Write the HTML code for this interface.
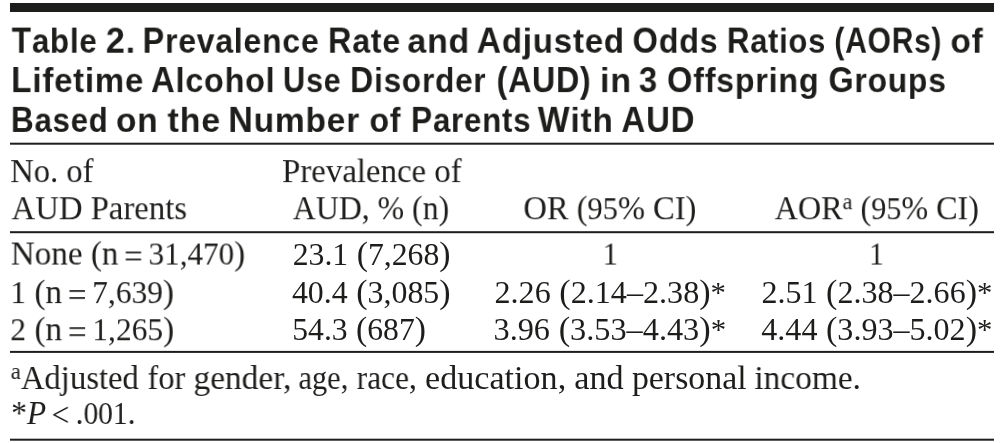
<!DOCTYPE html>
<html><head><meta charset="utf-8">
<style>
html,body{margin:0;padding:0;background:#fff;}
body{width:1004px;height:443px;position:relative;overflow:hidden;color:#1d1d1b;}
.rule{position:absolute;left:10.2px;width:983.6px;background:#1d1d1b;will-change:transform;}
.t,.s{position:absolute;white-space:nowrap;transform-origin:0 0;will-change:transform;line-height:40px;}
.t{font-family:"Liberation Sans",sans-serif;font-weight:bold;font-size:35.5px;letter-spacing:0.9px;}
.s{font-family:"Liberation Serif",serif;font-size:33.5px;}
.d{font-size:0.94em;line-height:0;}
.u{font-size:0.7em;position:relative;top:-0.42em;}
.q{margin:0 -0.08em;position:relative;top:0.1em;}
.lt{margin:0 0.2em 0 0.17em;position:relative;top:0.07em;}
.c{font-size:1.015em;line-height:0;}
.a{font-size:0.9em;position:relative;top:-0.04em;}
</style></head><body>
<div class="rule" style="top:3px;height:8.5px;transform:translateY(0.00px)"></div>
<div class="rule" style="top:142px;height:2.1px;transform:translateY(0.70px)"></div>
<div class="rule" style="top:231px;height:2.2px;transform:translateY(0.20px)"></div>
<div class="rule" style="top:350px;height:2.1px;transform:translateY(0.90px)"></div>
<div class="rule" style="top:438px;height:2.1px;transform:translateY(0.70px)"></div>
<div class="t" id="t1_0" style="left:11px;top:21px;transform:translate(0.70px,0.82px) scale(0.8792,0.965)"><span class="c">T</span>able</div>
<div class="t" id="t1_1" style="left:105px;top:21px;transform:translate(0.80px,0.82px) scale(0.9488,0.965)"><span class="c">2</span>.</div>
<div class="t" id="t1_2" style="left:142px;top:21px;transform:translate(0.60px,0.82px) scale(0.8984,0.965)"><span class="c">P</span>revalence</div>
<div class="t" id="t1_3" style="left:328px;top:21px;transform:translate(0.00px,0.82px) scale(0.9013,0.965)"><span class="c">R</span>ate</div>
<div class="t" id="t1_4" style="left:407px;top:21px;transform:translate(0.40px,0.82px) scale(0.9516,0.965)">and</div>
<div class="t" id="t1_5" style="left:476px;top:21px;transform:translate(0.80px,0.82px) scale(0.9290,0.965)"><span class="c">A</span>djusted</div>
<div class="t" id="t1_6" style="left:632px;top:21px;transform:translate(0.50px,0.82px) scale(0.9077,0.965)"><span class="c">O</span>dds</div>
<div class="t" id="t1_7" style="left:726px;top:21px;transform:translate(0.90px,0.82px) scale(0.8673,0.965)"><span class="c">R</span>atios</div>
<div class="t" id="t1_8" style="left:834px;top:21px;transform:translate(0.40px,0.82px) scale(0.8339,0.965)"><span class="c">(AOR</span>s<span class="c">)</span></div>
<div class="t" id="t1_9" style="left:950px;top:21px;transform:translate(0.50px,0.82px) scale(0.9394,0.965)">of</div>
<div class="t" id="t2_0" style="left:11px;top:61px;transform:translate(0.10px,0.22px) scale(0.9258,0.965)"><span class="c">L</span>ifetime</div>
<div class="t" id="t2_1" style="left:151px;top:61px;transform:translate(0.00px,0.22px) scale(0.9098,0.965)"><span class="c">A</span>lcohol</div>
<div class="t" id="t2_2" style="left:282px;top:61px;transform:translate(0.90px,0.22px) scale(0.8578,0.965)"><span class="c">U</span>se</div>
<div class="t" id="t2_3" style="left:350px;top:61px;transform:translate(0.10px,0.22px) scale(0.8880,0.965)"><span class="c">D</span>isorder</div>
<div class="t" id="t2_4" style="left:496px;top:61px;transform:translate(0.60px,0.22px) scale(0.8912,0.965)"><span class="c">(AUD)</span></div>
<div class="t" id="t2_5" style="left:600px;top:61px;transform:translate(0.00px,0.22px) scale(0.9576,0.965)">in</div>
<div class="t" id="t2_6" style="left:638px;top:61px;transform:translate(0.80px,0.22px) scale(0.9167,0.965)"><span class="c">3</span></div>
<div class="t" id="t2_7" style="left:667px;top:61px;transform:translate(0.00px,0.22px) scale(0.9055,0.965)"><span class="c">O</span>ffspring</div>
<div class="t" id="t2_8" style="left:828px;top:61px;transform:translate(0.50px,0.22px) scale(0.8946,0.965)"><span class="c">G</span>roups</div>
<div class="t" id="t3_0" style="left:10px;top:101px;transform:translate(0.90px,0.02px) scale(0.8764,0.965)"><span class="c">B</span>ased</div>
<div class="t" id="t3_1" style="left:116px;top:101px;transform:translate(0.00px,0.02px) scale(0.9415,0.965)">on</div>
<div class="t" id="t3_2" style="left:167px;top:101px;transform:translate(0.50px,0.02px) scale(0.9574,0.965)">the</div>
<div class="t" id="t3_3" style="left:228px;top:101px;transform:translate(0.30px,0.02px) scale(0.9416,0.965)"><span class="c">N</span>umber</div>
<div class="t" id="t3_4" style="left:369px;top:101px;transform:translate(0.50px,0.02px) scale(0.9030,0.965)">of</div>
<div class="t" id="t3_5" style="left:411px;top:101px;transform:translate(0.00px,0.02px) scale(0.8788,0.965)"><span class="c">P</span>arents</div>
<div class="t" id="t3_6" style="left:537px;top:101px;transform:translate(0.80px,0.02px) scale(0.9346,0.965)"><span class="c">W</span>ith</div>
<div class="t" id="t3_7" style="left:621px;top:101px;transform:translate(0.40px,0.02px) scale(0.9156,0.965)"><span class="c">AUD</span></div>
<div class="s" id="h1a" style="left:10px;top:151px;transform:translate(0.20px,0.10px) scale(0.9718,1)">No. of</div>
<div class="s" id="h1b" style="left:11px;top:188px;transform:translate(0.50px,0.20px) scale(0.9775,1)">AUD Parents</div>
<div class="s" id="h2a" style="left:282px;top:151px;transform:translate(0.00px,0.10px) scale(0.9808,1)">Prevalence of</div>
<div class="s" id="h2b" style="left:292px;top:188px;transform:translate(0.80px,0.20px) scale(0.9497,1)">AUD, % (n)</div>
<div class="s" id="h3" style="left:523px;top:188px;transform:translate(0.40px,0.20px) scale(0.9693,1)">OR (<span class="d">95</span>% CI)</div>
<div class="s" id="h4" style="left:774px;top:188px;transform:translate(0.70px,0.20px) scale(0.9580,1)">AOR<span class="u">a</span> (<span class="d">95</span>% CI)</div>
<div class="s" id="r1a" style="left:10px;top:233px;transform:translate(0.70px,0.55px) scale(0.9898,1)">None (n<span class="q">&nbsp;=&nbsp;</span><span class="d">31,470</span>)</div>
<div class="s" id="r2a" style="left:10px;top:272px;transform:translate(0.30px,0.10px) scale(0.9956,1)"><span class="d">1</span> (n<span class="q">&nbsp;=&nbsp;</span><span class="d">7,639</span>)</div>
<div class="s" id="r3a" style="left:10px;top:309px;transform:translate(0.30px,0.20px) scale(0.9969,1)"><span class="d">2</span> (n<span class="q">&nbsp;=&nbsp;</span><span class="d">1,265</span>)</div>
<div class="s" id="r1b" style="left:292px;top:233px;transform:translate(0.70px,0.55px) scale(1.0078,1)"><span class="d">23.1</span> (<span class="d">7,268</span>)</div>
<div class="s" id="r2b" style="left:291px;top:272px;transform:translate(0.90px,0.10px) scale(1.0130,1)"><span class="d">40.4</span> (<span class="d">3,085</span>)</div>
<div class="s" id="r3b" style="left:292px;top:309px;transform:translate(0.30px,0.20px) scale(1.0046,1)"><span class="d">54.3</span> (<span class="d">687</span>)</div>
<div class="s" id="r1c" style="left:602px;top:233px;transform:translate(0.60px,0.55px) scale(0.9727,1)"><span class="d">1</span></div>
<div class="s" id="r2c" style="left:494px;top:272px;transform:translate(0.50px,0.10px) scale(1.0205,1)"><span class="d">2.26</span> (<span class="d">2.14–2.38</span>)<span class="a">*</span></div>
<div class="s" id="r3c" style="left:493px;top:309px;transform:translate(0.50px,0.20px) scale(1.0259,1)"><span class="d">3.96</span> (<span class="d">3.53–4.43</span>)<span class="a">*</span></div>
<div class="s" id="r1d" style="left:869px;top:233px;transform:translate(0.00px,0.55px) scale(0.9455,1)"><span class="d">1</span></div>
<div class="s" id="r2d" style="left:761px;top:272px;transform:translate(0.50px,0.10px) scale(1.0179,1)"><span class="d">2.51</span> (<span class="d">2.38–2.66</span>)<span class="a">*</span></div>
<div class="s" id="r3d" style="left:761px;top:309px;transform:translate(0.30px,0.20px) scale(1.0188,1)"><span class="d">4.44</span> (<span class="d">3.93–5.02</span>)<span class="a">*</span></div>
<div class="s" id="f1_0" style="left:10px;top:358px;transform:translate(0.70px,0.00px) scale(0.9754,1)"><span class="u">a</span>Adjusted</div>
<div class="s" id="f1_1" style="left:147px;top:358px;transform:translate(0.50px,0.00px) scale(0.9658,1)">for</div>
<div class="s" id="f1_2" style="left:193px;top:358px;transform:translate(0.50px,0.00px) scale(0.9979,1)">gender,</div>
<div class="s" id="f1_3" style="left:298px;top:358px;transform:translate(0.50px,0.00px) scale(0.9077,1)">age,</div>
<div class="s" id="f1_4" style="left:356px;top:358px;transform:translate(0.70px,0.00px) scale(0.9361,1)">race,</div>
<div class="s" id="f1_5" style="left:425px;top:358px;transform:translate(0.10px,0.00px) scale(1.0178,1)">education,</div>
<div class="s" id="f1_6" style="left:574px;top:358px;transform:translate(0.20px,0.00px) scale(1.0213,1)">and</div>
<div class="s" id="f1_7" style="left:631px;top:358px;transform:translate(0.90px,0.00px) scale(1.0107,1)">personal</div>
<div class="s" id="f1_8" style="left:754px;top:358px;transform:translate(0.40px,0.00px) scale(0.9962,1)">income.</div>
<div class="s" id="f2" style="left:11px;top:393px;transform:translate(0.20px,0.00px) scale(0.9391,1)">*<i>P</i><span class="lt">&lt;</span>.<span class="d">001</span>.</div>
</body></html>
